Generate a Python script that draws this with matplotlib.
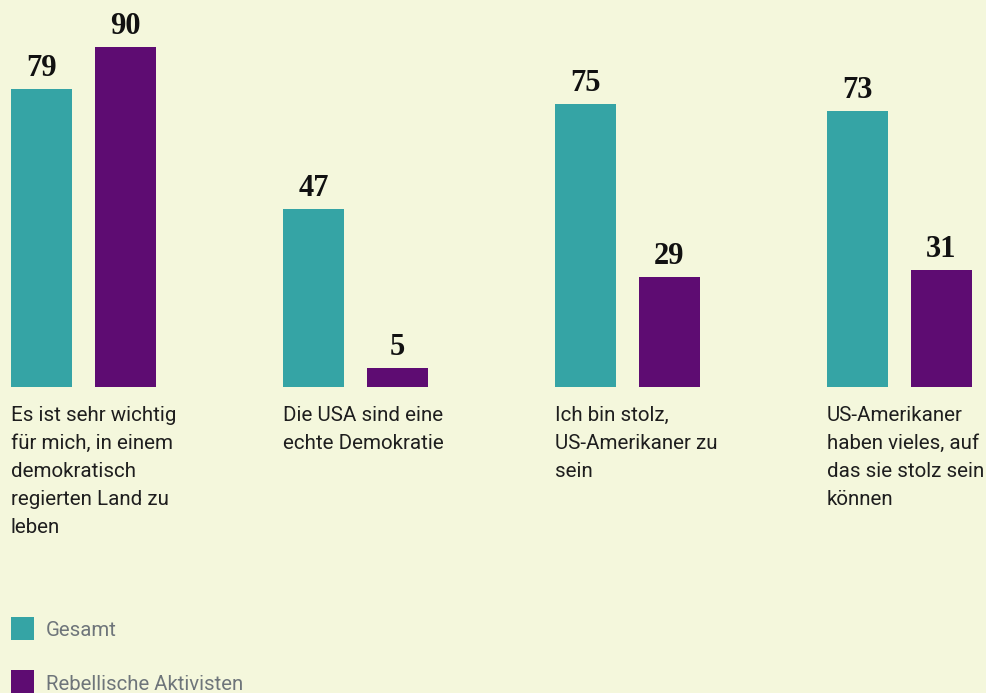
import matplotlib
matplotlib.use("Agg")
import matplotlib.pyplot as plt
from matplotlib.patches import Rectangle
import numpy as np

categories = [
    "Es ist sehr wichtig\nfür mich, in einem\ndemokratisch\nregierten Land zu\nleben",
    "Die USA sind eine\nechte Demokratie",
    "Ich bin stolz,\nUS-Amerikaner zu\nsein",
    "US-Amerikaner\nhaben vieles, auf\ndas sie stolz sein\nkönnen",
]
series_names = ["Gesamt", "Rebellische Aktivisten"]
gesamt = [79, 47, 75, 73]
aktivisten = [90, 5, 29, 31]

BG = "#F4F7DC"
TEAL = "#35A4A5"
PURPLE = "#5E0C72"
TEXT = "#1E1E1E"
LEGTEXT = "#6E757A"

W, H = 986, 693
fig = plt.figure(figsize=(W / 100, H / 100), dpi=100, facecolor=BG)

px_per_group = 272.0
first_center = 41.5
baseline_px = 387.0
px_per_unit = 340.0 / 90.0

ax = fig.add_axes([0, (H - baseline_px) / H, 1, baseline_px / H])
ax.set_facecolor(BG)
ax.set_xlim(-first_center / px_per_group, (W - first_center) / px_per_group)
ax.set_ylim(0, baseline_px / px_per_unit)
ax.axis("off")

x = np.arange(len(categories))
width = 61 / px_per_group
offset = 83.5 / px_per_group

b1 = ax.bar(x, gesamt, width=width, color=TEAL, label=series_names[0])
b2 = ax.bar(x + offset, aktivisten, width=width, color=PURPLE, label=series_names[1])

for bars, vals in ((b1, gesamt), (b2, aktivisten)):
    for rect, v in zip(bars, vals):
        ax.annotate(str(v), xy=(rect.get_x() + rect.get_width() / 2, rect.get_height()),
                    xytext=(0, 13), textcoords="offset pixels", ha="center", va="baseline",
                    fontsize=22, fontweight="bold", family="Liberation Serif", color="#111111")

for xi, cat in zip(x, categories):
    ax.annotate(cat, xy=(xi - width / 2, 0), xytext=(0, -19), textcoords="offset pixels",
                ha="left", va="top", fontsize=14.8, family="Roboto", color=TEXT,
                linespacing=1.6, annotation_clip=False)

# legend
for i, (name, col) in enumerate(zip(series_names, [TEAL, PURPLE])):
    top = 617 + i * 53
    fig.add_artist(Rectangle((11 / W, (H - top - 23) / H), 23 / W, 23 / H,
                             transform=fig.transFigure, color=col, lw=0))
    fig.text(46 / W, (H - top - 14) / H, name, ha="left", va="center",
             fontsize=14.7, family="Roboto", color=LEGTEXT)

fig.savefig("out.png", dpi=100, facecolor=BG)
